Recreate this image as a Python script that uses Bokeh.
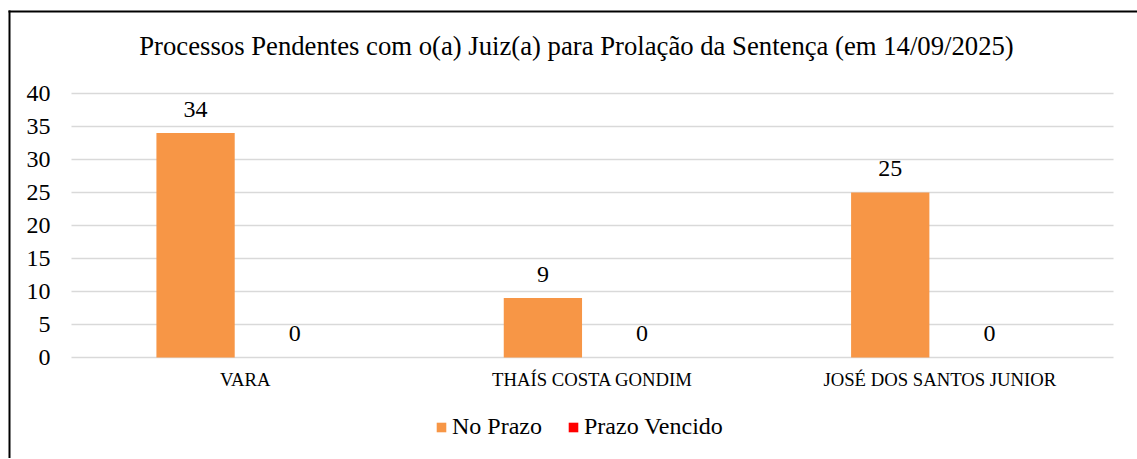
from bokeh.plotting import figure
from bokeh.models import (Range1d, ColumnDataSource, Legend, LegendItem,
                          Label, FixedTicker, BoxAnnotation)
from bokeh.core.properties import value
from bokeh.embed import file_html
from bokeh.resources import INLINE

# ---- data ----
categories = ["VARA", "THAÍS COSTA GONDIM", "JOSÉ DOS SANTOS JUNIOR"]
no_prazo = [34, 9, 25]
prazo_vencido = [0, 0, 0]
series_names = ["No Prazo", "Prazo Vencido"]
title_text = "Processos Pendentes com o(a) Juiz(a) para Prolação da Sentença (em 14/09/2025)"
y_ticks = [0, 5, 10, 15, 20, 25, 30, 35, 40]

# ---- layout (pixels on the canvas) ----
FONT = "Liberation Serif"
TXT = "#000000"
W, H = 1137, 458
PL, PR = 71.0, 1113.0          # plot area left / right
PT, PB = 93.0, 357.0           # y=40 / y=0
U = (PR - PL) / len(categories)
S = (PB - PT) / 40.0

def xd(px):                     # canvas px -> data x (category i centred at i+1)
    return 0.5 + (px - PL) / U

def yd(py):                     # canvas px -> data y
    return (PB - py) / S

cat_x = [i + 1 for i in range(len(categories))]
off = 0.1428
bw = 0.2254

src = ColumnDataSource(dict(
    x_np=[x - off for x in cat_x],
    x_pv=[x + off for x in cat_x],
    np=no_prazo,
    pv=prazo_vencido,
    np_lbl=[str(v) for v in no_prazo],
    pv_lbl=[str(v) for v in prazo_vencido],
))

p = figure(x_range=Range1d(xd(0), xd(W)), y_range=Range1d(yd(H), yd(0)),
           width=W, height=H, output_backend="svg", toolbar_location=None,
           min_border=0)
p.title.visible = False
p.outline_line_color = None
p.background_fill_color = "white"
p.border_fill_color = "white"
p.xgrid.grid_line_color = None
p.ygrid.grid_line_color = None

# horizontal gridlines across the plot area
p.segment(x0=[0.5] * len(y_ticks), x1=[0.5 + len(categories)] * len(y_ticks),
          y0=y_ticks, y1=y_ticks, line_color="#D9D9D9", line_width=1.5)

r1 = p.vbar(x="x_np", top="np", width=bw, source=src,
            fill_color="#F79646", line_color=None)
r2 = p.vbar(x="x_pv", top="pv", width=bw, source=src,
            fill_color="#FF0000", line_color=None)

for xcol, col, lbl in (("x_np", "np", "np_lbl"), ("x_pv", "pv", "pv_lbl")):
    p.text(x=xcol, y=col, text=lbl, source=src,
           text_align="center", text_baseline="alphabetic", y_offset=-24,
           text_font=value(FONT), text_font_size="24px", text_color=TXT)

# axes placed inside the frame
p.yaxis.fixed_location = 0.5
p.yaxis.ticker = FixedTicker(ticks=y_ticks)
p.yaxis.axis_line_color = None
p.yaxis.major_tick_line_color = None
p.yaxis.minor_tick_line_color = None
p.yaxis.major_tick_out = 0
p.yaxis.major_tick_in = 0
p.yaxis.major_label_standoff = 21
p.yaxis.major_label_text_font = FONT
p.yaxis.major_label_text_font_size = "24px"
p.yaxis.major_label_text_color = TXT

p.xaxis.fixed_location = 0
p.xaxis.ticker = FixedTicker(ticks=cat_x)
p.xaxis.major_label_overrides = {x: c for x, c in zip(cat_x, categories)}
p.xaxis.axis_line_color = None
p.xaxis.major_tick_line_color = None
p.xaxis.minor_tick_line_color = None
p.xaxis.major_tick_out = 0
p.xaxis.major_tick_in = 0
p.xaxis.major_label_standoff = 11
p.xaxis.major_label_text_font = FONT
p.xaxis.major_label_text_font_size = "18.7px"
p.xaxis.major_label_text_color = TXT

# chart border (left and top)
p.add_layout(BoxAnnotation(left=xd(8), right=xd(W), top=yd(10), bottom=yd(12),
                           fill_color="black", fill_alpha=1, line_color=None))
p.add_layout(BoxAnnotation(left=xd(8), right=xd(10), top=yd(10), bottom=yd(H),
                           fill_color="black", fill_alpha=1, line_color=None))

# title
p.add_layout(Label(x=xd(576), y=yd(45), text=title_text,
                   text_align="center", text_baseline="alphabetic",
                   text_font=FONT, text_font_size="26.7px", text_color=TXT))

legend = Legend(items=[LegendItem(label=series_names[0], renderers=[r1]),
                       LegendItem(label=series_names[1], renderers=[r2])],
                orientation="horizontal", location=(435, H - 440),
                glyph_width=12, glyph_height=12, label_standoff=5, spacing=25,
                padding=0, margin=0, border_line_color=None, background_fill_alpha=0,
                label_text_font=FONT, label_text_font_size="24px", label_text_color=TXT)
p.add_layout(legend)

open("out.html", "w").write(file_html(p, INLINE))
